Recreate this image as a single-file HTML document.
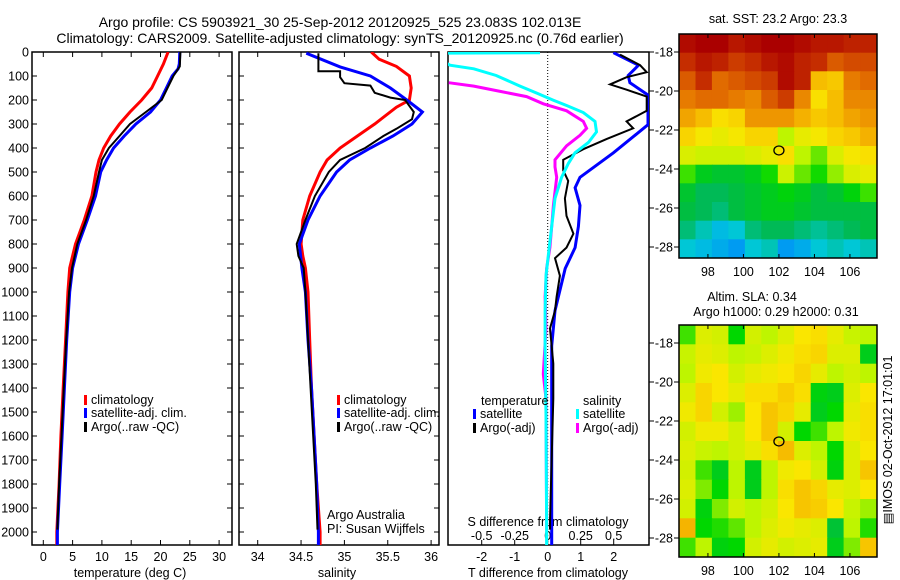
<!DOCTYPE html>
<html><head><meta charset="utf-8"><style>
html,body{margin:0;padding:0;background:#fff;width:900px;height:580px;overflow:hidden}
svg text{font-family:"Liberation Sans",sans-serif;font-size:12.5px;fill:#000}
</style></head><body>
<svg id="chart" width="900" height="580" viewBox="0 0 900 580" xmlns="http://www.w3.org/2000/svg"></svg>
<script>
// ---------- data ----------
const depthTicks=[0,100,200,300,400,500,600,700,800,900,1000,1100,1200,1300,1400,1500,1600,1700,1800,1900,2000];
const tempTicks=[0,5,10,15,20,25,30];
const salTicks=[34,34.5,35,35.5,36];
const salTickLabels=["34","34.5","35","35.5","36"];
const tdTicks=[-2,-1,0,1,2];
const sdTicks=[-0.5,-0.25,0,0.25,0.5];
const sdTickLabels=["-0.5","-0.25","0","0.25","0.5"];

const tClimDepth=[0,50,100,150,200,250,300,350,400,450,500,600,700,800,900,1000,1200,1400,1600,1800,2000,2060];
const tClim=[21.3,20.5,19.5,18.5,16.8,14.8,13.0,11.5,10.3,9.5,9.0,8.3,7.0,5.5,4.5,4.2,3.8,3.4,3.0,2.7,2.3,2.3];
const tSatDepth=[0,50,70,100,150,200,250,300,350,400,450,500,600,700,800,900,1000,1200,1400,1600,1800,2000,2060];
const tSat=[23.3,23.2,23.0,22.0,21.0,20.0,18.3,15.8,13.8,12.0,10.8,9.8,8.9,7.5,6.0,5.0,4.5,4.0,3.6,3.2,2.8,2.4,2.4];
const tArgoDepth=[0,60,100,150,200,250,300,350,400,450,500,600,700,800,900,1000,1200,1400,1600,1800,1990];
const tArgo=[23.4,23.3,22.2,21.2,20.2,17.5,14.8,13.0,11.2,10.0,9.5,8.6,7.3,5.8,4.9,4.4,3.9,3.5,3.1,2.7,2.4];

const sClimDepth=[0,30,60,100,150,200,230,300,350,400,450,500,600,700,800,850,900,1000,1200,1400,1600,1800,2000,2060];
const sClim=[35.31,35.4,35.6,35.75,35.77,35.75,35.6,35.35,35.15,34.95,34.8,34.72,34.6,34.52,34.5,34.52,34.55,34.58,34.6,34.62,34.65,34.68,34.72,34.72];
const sSatDepth=[5,62,100,150,200,250,300,350,400,450,500,600,700,800,900,1000,1200,1400,1600,1800,2000,2060];
const sSat=[34.56,34.95,35.3,35.53,35.72,35.9,35.78,35.56,35.3,35.06,34.91,34.72,34.58,34.48,34.51,34.55,34.58,34.62,34.65,34.68,34.7,34.7];
const sArgoDepth=[5,80,80,105,130,140,170,190,200,250,280,320,350,400,450,500,600,700,800,850,900,1000,1200,1400,1600,1800,1990];
const sArgo=[34.7,34.7,34.95,34.95,35.0,35.3,35.35,35.53,35.7,35.8,35.78,35.6,35.45,35.24,34.95,34.82,34.66,34.55,34.45,34.47,34.53,34.55,34.58,34.61,34.64,34.67,34.69];

const tdSatDepth=[3,55,98,128,179,303,420,522,566,639,727,815,902,1078,1224,1517,1955,2060];
const tdSat=[1.99,2.75,2.44,2.49,3.04,3.04,1.99,0.98,0.83,0.98,0.93,0.83,0.53,0.22,0.12,0.12,0.12,0.12];
const tdArgoDepth=[11,55,84,105,135,157,186,245,289,318,362,405,449,493,537,610,683,757,815,859,932,1020,1078,1152,1298,1444,1955,1990];
const tdArgo=[2.19,2.8,3.0,2.39,1.89,2.39,3.0,3.0,2.39,2.59,1.79,1.08,0.47,0.47,0.62,0.52,0.57,0.78,0.57,0.22,0.37,0.27,0.22,0.07,0.17,0.17,0.07,0.07];
const sdSatDepth=[0,3,5,55,70,98,142,172,201,223,252,289,333,377,420,464,522,610,727,844,932,1078,1224,1517,1955,2060];
const sdSat=[-0.07,-0.07,-0.9,-0.74,-0.56,-0.39,-0.21,-0.08,0.043,0.143,0.27,0.358,0.37,0.308,0.207,0.157,0.105,0.055,0.03,0.005,-0.013,-0.02,-0.02,-0.013,-0.008,-0.008];
const sdArgoDepth=[128,142,164,186,216,245,289,318,347,391,449,479,522,639,727,815,902,1020,1152,1342,1444,1955,1990];
const sdArgo=[-0.75,-0.56,-0.36,-0.16,-0.033,0.143,0.27,0.295,0.245,0.143,0.055,0.055,0.068,0.043,0.03,0.017,-0.008,-0.02,-0.013,-0.033,-0.013,-0.008,-0.008];

const latTicks=[-18,-20,-22,-24,-26,-28];
const lonTicks=[98,100,102,104,106];
const argoLon=102.0, argoLat=-23.05;
const sstGrid=[
[24.9,25.0,25.0,24.8,24.9,25.0,25.0,24.9,24.8,24.8,24.7,24.7],
[24.6,24.8,24.7,24.5,24.6,24.8,24.9,24.7,24.6,24.3,24.4,24.4],
[24.3,24.6,24.2,24.3,24.4,24.5,24.9,24.7,23.6,23.5,24.1,24.2],
[24.1,24.2,24.2,24.1,24.0,24.3,24.5,24.0,23.3,23.6,24.0,24.0],
[23.8,23.6,23.3,23.4,23.9,23.9,23.9,23.7,23.5,23.6,23.8,23.9],
[23.4,23.2,23.1,23.2,23.4,23.4,22.8,23.1,23.2,23.4,23.5,23.7],
[23.0,22.9,22.9,22.9,23.0,23.1,23.3,22.8,22.6,23.0,23.2,23.3],
[22.5,22.2,22.1,22.1,22.2,22.4,22.9,22.6,22.4,22.7,23.0,23.1],
[22.1,21.9,21.9,22.0,22.1,22.2,22.3,22.2,22.0,22.1,22.3,22.5],
[22.0,21.9,21.8,22.0,22.1,22.2,22.2,22.1,22.0,22.0,22.0,22.0],
[21.8,21.6,21.4,21.5,21.8,21.9,21.9,21.8,21.7,21.8,21.9,22.0],
[21.5,21.4,21.3,21.2,21.5,21.6,21.2,21.3,21.5,21.6,21.5,21.6]];
const slaGrid=[
[0.26,0.33,0.32,0.24,0.32,0.30,0.33,0.36,0.37,0.34,0.31,0.30],
[0.31,0.34,0.33,0.30,0.31,0.33,0.35,0.37,0.38,0.33,0.33,0.22],
[0.30,0.35,0.36,0.32,0.34,0.35,0.36,0.38,0.34,0.30,0.32,0.30],
[0.33,0.38,0.36,0.34,0.37,0.37,0.39,0.37,0.23,0.22,0.33,0.36],
[0.35,0.38,0.32,0.29,0.36,0.40,0.38,0.34,0.22,0.24,0.34,0.37],
[0.32,0.35,0.35,0.32,0.36,0.40,0.32,0.24,0.26,0.30,0.35,0.37],
[0.33,0.31,0.30,0.32,0.34,0.37,0.41,0.33,0.30,0.24,0.33,0.36],
[0.32,0.26,0.22,0.30,0.22,0.30,0.35,0.36,0.32,0.23,0.33,0.40],
[0.33,0.28,0.24,0.30,0.22,0.30,0.37,0.40,0.38,0.34,0.33,0.36],
[0.32,0.23,0.28,0.32,0.30,0.32,0.36,0.40,0.39,0.36,0.31,0.29],
[0.42,0.24,0.25,0.27,0.30,0.33,0.35,0.34,0.33,0.20,0.30,0.25],
[0.26,0.30,0.23,0.24,0.32,0.34,0.32,0.33,0.34,0.22,0.28,0.40]];

// ---------- scales ----------
const yD=d=>52+0.24*d;
const xT=v=>43.3+5.86*v;
const xS=v=>257.7+86.7*(v-34);
const xTD=v=>547.7+33*v;
const xSD=v=>547.7+132*v;
const LON0=96.37, LONPX=17.75;
const mapX=lon=>679+(lon-LON0)*LONPX;
const mapY=(lat,off)=>off+52+(-18-lat)*19.5;
const MAP1={off:0,top:34,bot:258}, MAP2={off:291,top:325,bot:557};

const NS="http://www.w3.org/2000/svg";
const svg=document.getElementById('chart');
function mk(tag,attrs,parent){const e=document.createElementNS(NS,tag);for(const k in attrs)e.setAttribute(k,attrs[k]);(parent||svg).appendChild(e);return e;}
function txt(s,x,y,anchor,parent,size){const e=mk('text',{x:x,y:y,'text-anchor':anchor||'start'},parent);if(size)e.style.fontSize=size+'px';e.textContent=s;return e;}

const defs=mk('defs',{});
function clip(id,x,y,w,h){const c=mk('clipPath',{id:id},defs);mk('rect',{x:x,y:y,width:w,height:h},c);}
clip('c1',32,52,200,493);clip('c2',239,52,200,493);clip('c3',448,52,201,493);
clip('cm1',679,MAP1.top,198,MAP1.bot-MAP1.top);clip('cm2',679,MAP2.top,198,MAP2.bot-MAP2.top);

let t=txt('Argo profile: CS 5903921_30 25-Sep-2012 20120925_525 23.083S 102.013E',340,27,'middle',null,14);


t=txt('Climatology: CARS2009. Satellite-adjusted climatology: synTS_20120925.nc (0.76d earlier)',340,43,'middle',null,14);



function line(xs,ds,xf,color,w,parent,name){
  const pts=ds.map((d,i)=>xf(xs[i]).toFixed(1)+','+yD(d).toFixed(1)).join(' ');
  const p=mk('polyline',{points:pts,fill:'none',stroke:color,'stroke-width':w,'stroke-linejoin':'miter'},parent);
  
  
  return p;
}
function panelFrame(x0,x1,name,leftLabels){
  const g=mk('g',{});
  
  
  mk('rect',{x:x0,y:52,width:x1-x0,height:493,fill:'none',stroke:'#000','stroke-width':1.5},g);
  depthTicks.forEach(d=>{
    mk('line',{x1:x0,x2:x0+5,y1:yD(d),y2:yD(d),stroke:'#000'},g);
    mk('line',{x1:x1-5,x2:x1,y1:yD(d),y2:yD(d),stroke:'#000'},g);
    if(leftLabels){const l=txt(String(d),29,yD(d)+4.5,'end',g);
      
      }
  });
  return g;
}
function legendEntry(x,y,color,label,parent){
  const g=mk('g',{},parent);
  
  
  mk('rect',{x:x,y:y-9,width:3,height:10,fill:color},g);
  txt(label,x+7,y,'start',g);
}

// ---- panel 1 temperature ----
const g1=panelFrame(32,232,'temperature-panel',true);
tempTicks.forEach(v=>{mk('line',{x1:xT(v),x2:xT(v),y1:545,y2:540,stroke:'#000'},g1);mk('line',{x1:xT(v),x2:xT(v),y1:52,y2:57,stroke:'#000'},g1);
  const l=txt(String(v),xT(v),561,'middle',g1);
  
  });
t=txt('temperature (deg C)',130,577,'middle',g1);


const p1=mk('g',{'clip-path':'url(#c1)'},g1);
line(tClim,tClimDepth,xT,'#f00',3,p1,'temperature-climatology-line');
line(tSat,tSatDepth,xT,'#00f',3,p1,'temperature-satellite-line');
line(tArgo,tArgoDepth,xT,'#000',2,p1,'temperature-argo-line');
legendEntry(84,404,'#f00','climatology',g1);
legendEntry(84,417,'#00f','satellite-adj. clim.',g1);
legendEntry(84,431,'#000','Argo(..raw -QC)',g1);

// ---- panel 2 salinity ----
const g2=panelFrame(239,439,'salinity-panel',false);
salTicks.forEach((v,i)=>{mk('line',{x1:xS(v),x2:xS(v),y1:545,y2:540,stroke:'#000'},g2);mk('line',{x1:xS(v),x2:xS(v),y1:52,y2:57,stroke:'#000'},g2);
  const l=txt(salTickLabels[i],xS(v),561,'middle',g2);
  
  });
t=txt('salinity',337,577,'middle',g2);


const p2=mk('g',{'clip-path':'url(#c2)'},g2);
line(sClim,sClimDepth,xS,'#f00',3,p2,'salinity-climatology-line');
line(sSat,sSatDepth,xS,'#00f',3,p2,'salinity-satellite-line');
line(sArgo,sArgoDepth,xS,'#000',2,p2,'salinity-argo-line');
legendEntry(337,404,'#f00','climatology',g2);
legendEntry(337,417,'#00f','satellite-adj. clim.',g2);
legendEntry(337,431,'#000','Argo(..raw -QC)',g2);
t=txt('Argo Australia',327,519,'start',g2);


t=txt('PI: Susan Wijffels',327,533,'start',g2);



// ---- panel 3 differences ----
const g3=mk('g',{});


mk('rect',{x:448,y:52,width:201,height:493,fill:'none',stroke:'#000','stroke-width':1.5},g3);
latTicks.forEach(la=>{[MAP1.off,MAP2.off].forEach(off=>mk('line',{x1:649,x2:654,y1:mapY(la,off),y2:mapY(la,off),stroke:'#000'},g3));});
mk('line',{x1:xTD(0),x2:xTD(0),y1:52,y2:545,stroke:'#000','stroke-dasharray':'1,2'},g3);
tdTicks.forEach(v=>{mk('line',{x1:xTD(v),x2:xTD(v),y1:545,y2:540,stroke:'#000'},g3);
  const l=txt(String(v),xTD(v),561,'middle',g3);
  
  });
sdTicks.forEach((v,i)=>{const l=txt(sdTickLabels[i],xSD(v),540,'middle',g3);
  
  });
t=txt('S difference from climatology',548,526,'middle',g3);


t=txt('T difference from climatology',548,577,'middle',g3);


const p3=mk('g',{'clip-path':'url(#c3)'},g3);
line(tdSat,tdSatDepth,xTD,'#00f',3,p3,'t-diff-satellite-line');
line(tdArgo,tdArgoDepth,xTD,'#000',2,p3,'t-diff-argo-line');
line(sdArgo,sdArgoDepth,xSD,'#f0f',3,p3,'s-diff-argo-line');
line(sdSat,sdSatDepth,xSD,'#0ff',3,p3,'s-diff-satellite-line');
t=txt('temperature',481,405,'start',g3);


t=txt('salinity',583,405,'start',g3);


legendEntry(473,418,'#00f','satellite',g3);
legendEntry(473,432,'#000','Argo(-adj)',g3);
legendEntry(576,418,'#0ff','satellite',g3);
legendEntry(576,432,'#f0f','Argo(-adj)',g3);

// ---- maps ----
const cstops=[[0,50,210],[0,130,255],[0,200,220],[0,185,80],[0,215,0],[190,245,0],[250,230,0],[245,180,0],[230,120,0],[200,50,0],[170,0,0]];
function cmap(tv){tv=Math.max(0,Math.min(1,tv))*10;const i=Math.min(9,Math.floor(tv)),f=tv-i;const a=cstops[i],b=cstops[i+1];
  return 'rgb('+a.map((c,k)=>Math.round(c+(b[k]-c)*f)).join(',')+')';}
function drawMap(grid,vmin,vmax,M,clipId,name,titleLines){
  const g=mk('g',{});
  
  
  const cg=mk('g',{'clip-path':'url(#'+clipId+')'},g);
  const nr=grid.length,nc=grid[0].length;
  const top=M.top,bot=M.bot;
  const ch=(bot-top)/nr;
  const lonL=LON0, lonR=107.5, cw=(lonR-lonL)/nc;
  grid.forEach((row,r)=>row.forEach((v,c)=>{
    const x0=mapX(lonL+c*cw),x1=mapX(lonL+(c+1)*cw);
    const y0=top+r*ch;
    const cell=mk('rect',{x:x0.toFixed(1),y:y0.toFixed(1),width:(x1-x0+0.6).toFixed(1),height:(ch+0.6).toFixed(1),fill:cmap((v-vmin)/(vmax-vmin))},cg);
    
    
  }));
  mk('rect',{x:679,y:top,width:198,height:bot-top,fill:'none',stroke:'#000','stroke-width':1.5},g);
  lonTicks.forEach(lo=>{mk('line',{x1:mapX(lo),x2:mapX(lo),y1:top,y2:top+4,stroke:'#000'},g);mk('line',{x1:mapX(lo),x2:mapX(lo),y1:bot,y2:bot-4,stroke:'#000'},g);
    const l=txt(String(lo),mapX(lo),bot+18,'middle',g);
    
    });
  latTicks.forEach(la=>{mk('line',{x1:674,x2:679,y1:mapY(la,M.off),y2:mapY(la,M.off),stroke:'#000'},g);
    const l=txt(String(la),673,mapY(la,M.off)+4.5,'end',g);
    
    });
  const m=mk('ellipse',{cx:mapX(argoLon),cy:mapY(argoLat,M.off),rx:5,ry:4.5,fill:'none',stroke:'#000','stroke-width':1.3},g);
  
  
  titleLines.forEach(tl=>{const l=txt(tl[0],tl[1],tl[2],'middle',g);
    
    });
}
drawMap(sstGrid,20.6,25.0,MAP1,'cm1','sst-map',[['sat. SST: 23.2 Argo: 23.3',778,23]]);
drawMap(slaGrid,0,0.6,MAP2,'cm2','sla-map',[['Altim. SLA: 0.34',752,301],['Argo h1000: 0.29 h2000: 0.31',776,316]]);

t=txt('\u25A4IMOS 02-Oct-2012 17:01:01',0,0,'middle');
t.setAttribute('transform','translate(892,440) rotate(-90)');


</script>
</body></html>
